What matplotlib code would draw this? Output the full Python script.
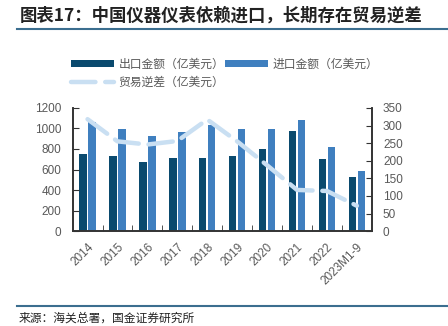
"""China instrument trade: exports vs imports and trade deficit."""
import numpy as np
import matplotlib
matplotlib.use('Agg')
import matplotlib.pyplot as plt
from matplotlib.lines import Line2D

plt.rcParams['font.family'] = ['Noto Sans CJK SC', 'DejaVu Sans']

YEARS = ['2014', '2015', '2016', '2017', '2018', '2019', '2020', '2021', '2022', '2023M1-9']
EXPORT = [747, 735, 676, 712, 712, 735, 803, 971, 704, 525]
IMPORT = [1061, 990, 922, 968, 1029, 990, 990, 1087, 818, 587]
DEFICIT = [318, 255, 246, 256, 317, 255, 187, 117, 114, 72]

C_EXP = '#0a4a6e'
C_IMP = '#3f7fbf'
C_DEF = '#c9dff2'
C_TXT = '#595959'
C_RULE = '#3b6e8f'

fig = plt.figure(figsize=(4.48, 3.26), dpi=100)
ax = fig.add_axes([0.162, 0.291, 0.668, 0.378])
ax2 = ax.twinx()

x = np.arange(len(YEARS))
w = 0.25
b1 = ax.bar(x - 0.15, EXPORT, w, color=C_EXP, label='出口金额（亿美元）')
b2 = ax.bar(x + 0.15, IMPORT, w, color=C_IMP, label='进口金额（亿美元）')
ln, = ax2.plot(x, DEFICIT, color=C_DEF, lw=3.2, dashes=(5.5, 2.2),
               solid_capstyle='round', dash_capstyle='round',
               label='贸易逆差（亿美元）')
ax.set_zorder(ax2.get_zorder() - 1)
ax.patch.set_visible(True)
ax2.patch.set_visible(False)

ax.set_xlim(-0.5, len(YEARS) - 0.5)
ax.set_ylim(0, 1200)
ax.set_yticks(range(0, 1201, 200))
ax2.set_ylim(0, 350)
ax2.set_yticks(range(0, 351, 50))

ax.set_xticks(x)
ax.set_xticklabels(YEARS, rotation=45, ha='right', rotation_mode='anchor',
                   family='Liberation Sans', fontsize=8.5, color=C_TXT)
ax.set_xticks(x[:-1] + 0.5, minor=True)
ax.tick_params(axis='x', which='major', length=0, pad=7)
ax.tick_params(axis='x', which='minor', direction='in', length=4, color='#333333')
ax.tick_params(axis='y', direction='in', length=4, pad=8, color='#333333',
               labelcolor=C_TXT, labelsize=8.5)
ax2.tick_params(axis='y', direction='in', length=4, pad=8, color='#333333',
                labelcolor=C_TXT, labelsize=8.5)
for a in (ax, ax2):
    for lab in a.get_yticklabels():
        lab.set_family('Liberation Sans')
    a.spines['top'].set_visible(False)
    for s in ('left', 'right', 'bottom'):
        a.spines[s].set_color('#333333')
        a.spines[s].set_linewidth(1.2)

fig.legend([b1, ln, b2], [b1.get_label(), ln.get_label(), b2.get_label()],
           ncol=2, loc='upper left', bbox_to_anchor=(0.135, 0.855),
           frameon=False, fontsize=8.5, handlelength=3.6, handleheight=0.5,
           labelcolor=C_TXT, columnspacing=0.1, handletextpad=0.4,
           labelspacing=0.45)

fig.text(0.045, 0.953, '图表17：中国仪器仪表依赖进口，长期存在贸易逆差',
         fontsize=12.5, fontweight='bold', style='italic', color='#222222',
         va='center', ha='left')
fig.add_artist(Line2D([0.038, 1.0], [0.911, 0.911], color=C_RULE, lw=1.5))
fig.add_artist(Line2D([0.038, 1.0], [0.061, 0.061], color=C_RULE, lw=1.5))
fig.text(0.042, 0.025, '来源：海关总署，国金证券研究所', fontsize=8.5,
         color='#222222', va='center', ha='left')

fig.savefig('out.png', dpi=100)
